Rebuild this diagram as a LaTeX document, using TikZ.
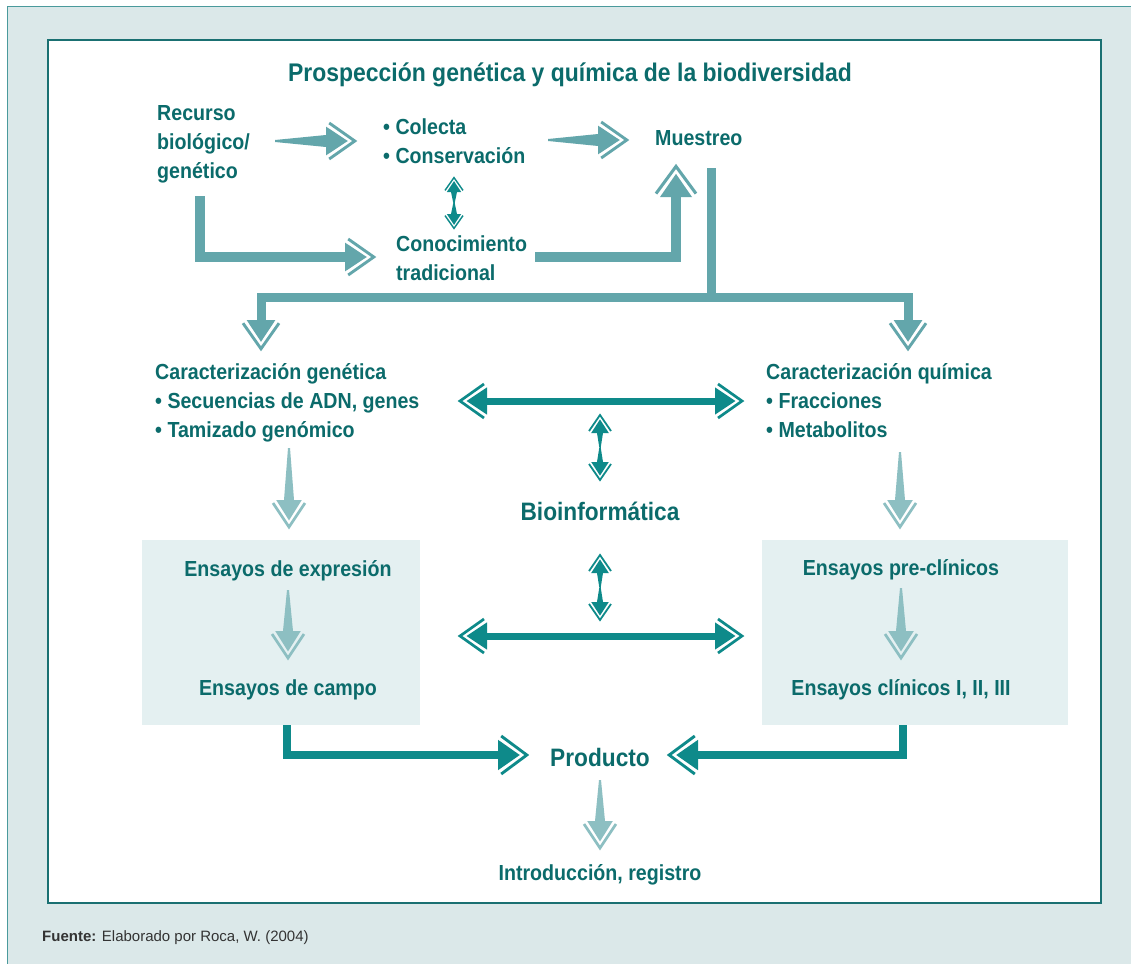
\documentclass[tikz,border=0pt]{standalone}
\usepackage{fontspec}
\setmainfont{Liberation Sans}[FakeStretch=0.9]
\newfontfamily\srcfont{Liberation Sans}
\usetikzlibrary{calc,arrows.meta}

\definecolor{txt}{HTML}{0B6B6B}
\definecolor{dk}{HTML}{0E8A8A}
\definecolor{lt}{HTML}{63A6AB}
\definecolor{ltt}{HTML}{8DBFC2}
\definecolor{boxc}{HTML}{E4F0F1}
\definecolor{bgc}{HTML}{DBE8E9}
\definecolor{framec}{HTML}{1A7072}
\definecolor{outerc}{HTML}{4A9A9C}
\definecolor{srcc}{HTML}{333333}

\pgfdeclarearrow{
  name = DT,
  parameters = {\the\pgfarrowlength,\the\pgfarrowwidth},
  setup code = {
    \pgfarrowssettipend{\pgfarrowlength}
    \pgfarrowssetbackend{0pt}
    \pgfarrowssetlineend{0.25\pgfarrowlength}
    \pgfarrowsupperhullpoint{\pgfarrowlength}{0pt}
    \pgfarrowsupperhullpoint{0pt}{0.55\pgfarrowwidth}
    \pgfarrowssavethe\pgfarrowlength
    \pgfarrowssavethe\pgfarrowwidth
  },
  drawing code = {
    \pgfpathmoveto{\pgfqpoint{0pt}{0.4\pgfarrowwidth}}
    \pgfpathlineto{\pgfqpoint{0.68\pgfarrowlength}{0pt}}
    \pgfpathlineto{\pgfqpoint{0pt}{-0.4\pgfarrowwidth}}
    \pgfpathclose
    \pgfusepathqfill
    \pgfsetlinewidth{0.09\pgfarrowlength}
    \pgfsetmiterjoin
    \pgfsetbuttcap
    \pgfpathmoveto{\pgfqpoint{0.1\pgfarrowlength}{0.5\pgfarrowwidth}}
    \pgfpathlineto{\pgfqpoint{0.9\pgfarrowlength}{0pt}}
    \pgfpathlineto{\pgfqpoint{0.1\pgfarrowlength}{-0.5\pgfarrowwidth}}
    \pgfusepathqstroke
  },
  defaults = {length=30pt, width=34pt}
}

\tikzset{
  taper/.style 2 args={to path={($(\tikztostart)!#1!90:(\tikztotarget)$) -- ($(\tikztotarget)!#2!-90:(\tikztostart)$) -- ($(\tikztotarget)!#2!90:(\tikztostart)$) -- ($(\tikztostart)!#1!-90:(\tikztotarget)$) -- cycle}},
  tx/.style={text=txt, font=\bfseries\fontsize{21.8}{29}\selectfont, inner sep=0pt, align=left},
  big/.style={text=txt, font=\bfseries\fontsize{25.2}{30}\selectfont, inner sep=0pt},
  one/.style={tx, text height=15pt, text depth=4pt},
  lbar/.style={lt, line width=10pt, line join=miter, line cap=butt},
  dbar/.style={dk, line width=8pt, line join=miter, line cap=butt},
  panel/.style={fill=boxc, draw=none},
}

% tapered arrow: color, start, tip, head length, head width, start half width, end half width
\newcommand\TArrow[7]{%
  \coordinate (tmpb) at ($(#3)!#4!(#2)$);
  \fill[#1] (#2) to[taper={#6}{#7}] (tmpb);
  \draw[#1, line width=1pt, -{DT[length=#4,width=#5]}] (#2) -- (#3);
}
% pinched double arrow: top, bottom, head length, head width
\newcommand\PArrow[4]{%
  \coordinate (pmid) at ($(#1)!0.5!(#2)$);
  \coordinate (ptop) at ($(#1)!#3!(#2)$);
  \coordinate (pbot) at ($(#2)!#3!(#1)$);
  \fill[dk] (pmid) to[taper={0.7pt}{3pt}] (ptop);
  \fill[dk] (pmid) to[taper={0.7pt}{3pt}] (pbot);
  \draw[dk, line width=0.8pt, {DT[length=#3,width=#4]}-{DT[length=#3,width=#4]}] (#1) -- (#2);
}

\begin{document}
\begin{tikzpicture}[x=1pt,y=-1pt]
\useasboundingbox (0,0) rectangle (1131,963);
\fill[white] (0,0) rectangle (1131,963);
\filldraw[fill=bgc, draw=outerc, line width=1pt] (7,7) rectangle (1200,1000);
\filldraw[fill=white, draw=framec, line width=1.2pt] (48,40) rectangle (1101,903);

% panels
\path[panel] (142,540) rectangle (420,725);
\path[panel] (762,540) rectangle (1068,725);

% texts
\node[text=txt, font=\bfseries\fontsize{25.5}{30}\selectfont, inner sep=0pt, text height=18pt, text depth=5pt] (tit) at (570,75) {Prospección genética y química de la biodiversidad};
\node[tx, anchor=west] (rec) at (157,144) {Recurso\\biológico/\\genético};
\node[tx, anchor=west] (col) at (383,141) {• Colecta\\• Conservación};
\node[one, anchor=west] (mue) at (655,140) {Muestreo};
\node[tx, anchor=west] (con) at (396,258.5) {Conocimiento\\tradicional};
\node[tx, anchor=west] (cgen) at (155,403) {Caracterización genética\\• Secuencias de ADN, genes\\• Tamizado genómico};
\node[tx, anchor=west] (cqui) at (766,401) {Caracterización química\\• Fracciones\\• Metabolitos};
\node[big, text height=19pt, text depth=5pt] (bio) at (600,513) {Bioinformática};
\node[one] (exp) at (288,571) {Ensayos de expresión};
\node[one] (cam) at (288,690) {Ensayos de campo};
\node[one] (pre) at (901,570) {Ensayos pre-clínicos};
\node[one] (cli) at (901,690) {Ensayos clínicos I, II, III};
\node[big, text height=19pt, text depth=5pt] (pro) at (600,759) {Producto};
\node[one] (intr) at (600,875) {Introducción, registro};
\node[text=srcc, font=\srcfont\fontsize{15}{17}\selectfont, inner sep=0pt, anchor=west] (src) at (42,938) {\textbf{Fuente:} Elaborado por Roca, W. (2004)};

% coordinates
\coordinate (a1s) at (275,141); \coordinate (a1e) at (358,141);
\coordinate (a2s) at (548,140); \coordinate (a2e) at (630,140);
\coordinate (r0) at (200,196);  \coordinate (r1) at (377,257);
\coordinate (c0) at (535,257);  \coordinate (c1) at (676,163);
\coordinate (m0) at (711,168);  \coordinate (m1) at (711,297);
\coordinate (gl) at (261,352);  \coordinate (gr) at (908,352);
\coordinate (k0) at (454,176);  \coordinate (k1) at (454,230);
\coordinate (h1a) at (457,401); \coordinate (h1b) at (745,401);
\coordinate (h2a) at (457,636); \coordinate (h2b) at (745,636);
\coordinate (v1a) at (600,413); \coordinate (v1b) at (600,482);
\coordinate (v2a) at (600,553); \coordinate (v2b) at (600,622);
\coordinate (d1s) at (289,448); \coordinate (d1e) at (289,530);
\coordinate (d2s) at (900,452); \coordinate (d2e) at (900,530);
\coordinate (d3s) at (288,590); \coordinate (d3e) at (288,661);
\coordinate (d4s) at (901,588); \coordinate (d4e) at (901,661);
\coordinate (d5s) at (600,780); \coordinate (d5e) at (600,851);
\coordinate (pl0) at (287,725); \coordinate (pl1) at (530,755);
\coordinate (pr0) at (903,725); \coordinate (pr1) at (666,755);

% top arrows
\TArrow{lt}{a1s}{a1e}{32pt}{36pt}{1pt}{6pt}
\TArrow{lt}{a2s}{a2e}{32pt}{36pt}{1pt}{6pt}
\draw[lbar, -{DT[length=32pt,width=36pt]}] (r0) |- (r1);
\draw[lbar, -{DT[length=34pt,width=40pt]}] (c0) -| (c1);
\PArrow{k0}{k1}{16pt}{18pt}
\draw[lbar, line width=9pt] (m0) -- (m1);
\draw[lbar, line width=9pt, -{DT[length=32pt,width=36pt]}] (m1) -| (gl);
\draw[lbar, line width=9pt, -{DT[length=32pt,width=36pt]}] (m1) -| (gr);

% bioinformatics
\draw[dk, line width=7pt, {DT[length=30pt,width=34pt]}-{DT[length=30pt,width=34pt]}] (h1a) -- (h1b);
\draw[dk, line width=7pt, {DT[length=30pt,width=34pt]}-{DT[length=30pt,width=34pt]}] (h2a) -- (h2b);
\PArrow{v1a}{v1b}{20pt}{22pt}
\PArrow{v2a}{v2b}{20pt}{22pt}

% light down arrows
\TArrow{ltt}{d1s}{d1e}{30pt}{32pt}{1pt}{5pt}
\TArrow{ltt}{d2s}{d2e}{30pt}{32pt}{1pt}{5pt}
\TArrow{ltt}{d3s}{d3e}{30pt}{32pt}{1pt}{5pt}
\TArrow{ltt}{d4s}{d4e}{30pt}{32pt}{1pt}{5pt}
\TArrow{ltt}{d5s}{d5e}{30pt}{32pt}{1pt}{5pt}

% product arrows
\draw[dbar, -{DT[length=32pt,width=38pt]}] (pl0) |- (pl1);
\draw[dbar, -{DT[length=32pt,width=38pt]}] (pr0) |- (pr1);
\end{tikzpicture}
\end{document}
